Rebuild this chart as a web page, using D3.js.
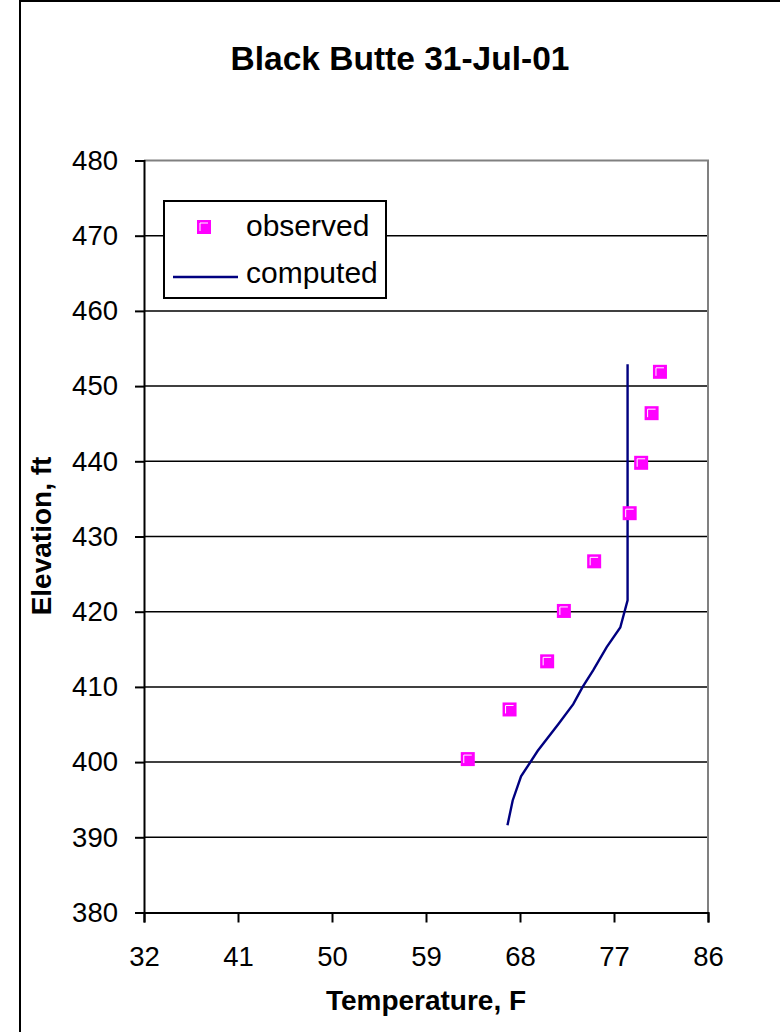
<!DOCTYPE html>
<html>
<head>
<meta charset="utf-8">
<script src="https://cdn.jsdelivr.net/npm/d3@7"></script>
<style>
  html, body { margin: 0; padding: 0; background: #fff; }
  svg { display: block; }
  text { font-family: "Liberation Sans", Arial, sans-serif; fill: #000; }
</style>
</head>
<body>
<script>
// ---- data ----
const title = "Black Butte 31-Jul-01";
const xTicks = [32, 41, 50, 59, 68, 77, 86];
const yTicks = [380, 390, 400, 410, 420, 430, 440, 450, 460, 470, 480];
const obsTemp = [63.0, 67.0, 70.6, 72.2, 75.1, 78.5, 79.6, 80.6, 81.4];
const obsElev = [400.4, 407.0, 413.4, 420.1, 426.7, 433.1, 439.8, 446.4, 451.9];
const compTemp = [66.8, 67.3, 68.1, 69.7, 71.7, 73.1, 74.0, 75.0, 76.3, 77.6, 78.3, 78.3];
const compElev = [391.6, 394.9, 398.1, 401.5, 405.1, 407.7, 410.0, 412.2, 415.3, 417.9, 421.5, 452.9];
const seriesNames = ["observed", "computed"];

// ---- layout ----
const W = 780, H = 1032;
const L = 144, R = 708, T = 160.5, B = 912.5;

const svg = d3.select("body").append("svg").attr("width", W).attr("height", H);

// outer chart border
svg.append("path").attr("d", `M20,${H} L20,1 L${W},1`)
  .attr("fill", "none").attr("stroke", "#000").attr("stroke-width", 2);

const x = d3.scaleLinear().domain([32, 86]).range([L, R]);
const y = d3.scaleLinear().domain([380, 480]).range([B, T]);

// gridlines
svg.append("g").selectAll("line").data(yTicks.filter(d => d !== 380 && d !== 480)).join("line")
  .attr("x1", L).attr("x2", R).attr("y1", d => y(d)).attr("y2", d => y(d))
  .attr("stroke", "#000").attr("stroke-width", 1.5);

// plot area border (top/right grey)
svg.append("path").attr("d", `M${L},${y(480)} L${R},${y(480)} L${R},${B}`)
  .attr("fill", "none").attr("stroke", "#808080").attr("stroke-width", 2);

// axes
const yAxis = d3.axisLeft(y).tickValues(yTicks).tickSize(9).tickPadding(17).tickFormat(d3.format("d"));
const gy = svg.append("g").attr("transform", `translate(${L},0)`).call(yAxis);
const xAxis = d3.axisBottom(x).tickValues(xTicks).tickSize(10).tickPadding(24).tickFormat(d3.format("d"));
const gx = svg.append("g").attr("transform", `translate(0,${B})`).call(xAxis);
[gx, gy].forEach(g => {
  g.select(".domain").attr("stroke", "#000").attr("stroke-width", 2);
  g.selectAll(".tick line").attr("stroke", "#000").attr("stroke-width", 2);
  g.selectAll(".tick text").style("font-family", "'Liberation Sans', Arial, sans-serif")
    .style("font-size", "27.5px").attr("fill", "#000");
});

// computed line
const line = d3.line().x(d => x(d[0])).y(d => y(d[1]));
svg.append("path").datum(compTemp.map((t, i) => [t, compElev[i]]))
  .attr("d", line).attr("fill", "none").attr("stroke", "#000080").attr("stroke-width", 2.4);

// observed markers
function marker(g, cx, cy) {
  g.append("rect").attr("x", cx - 7).attr("y", cy - 7).attr("width", 14).attr("height", 14)
    .attr("fill", "#ff00ff");
  g.append("path").attr("d", `M${cx - 4},${cy + 4} L${cx - 4},${cy - 4} L${cx + 4},${cy - 4}`)
    .attr("fill", "none").attr("stroke", "#fff").attr("stroke-width", 1);
}
const mg = svg.append("g");
obsTemp.forEach((t, i) => marker(mg, x(t), y(obsElev[i])));

// legend
const lg = svg.append("g");
lg.append("rect").attr("x", 164).attr("y", 201).attr("width", 222).attr("height", 97)
  .attr("fill", "#fff").attr("stroke", "#000").attr("stroke-width", 2);
marker(lg, 204, 227);
lg.append("line").attr("x1", 173).attr("x2", 238).attr("y1", 277).attr("y2", 277)
  .attr("stroke", "#000080").attr("stroke-width", 2.4);
lg.append("text").attr("x", 246).attr("y", 236).style("font-size", "30px").text(seriesNames[0]);
lg.append("text").attr("x", 246).attr("y", 283).style("font-size", "30px").text(seriesNames[1]);

// titles
svg.append("text").attr("x", 400).attr("y", 70).attr("text-anchor", "middle")
  .style("font-size", "33.5px").style("font-weight", "bold").text(title);
svg.append("text").attr("x", 426).attr("y", 1010).attr("text-anchor", "middle")
  .style("font-size", "28px").style("font-weight", "bold").text("Temperature, F");
svg.append("text").attr("transform", "translate(51,536) rotate(-90)").attr("text-anchor", "middle")
  .style("font-size", "28px").style("font-weight", "bold").text("Elevation, ft");
</script>
</body>
</html>
